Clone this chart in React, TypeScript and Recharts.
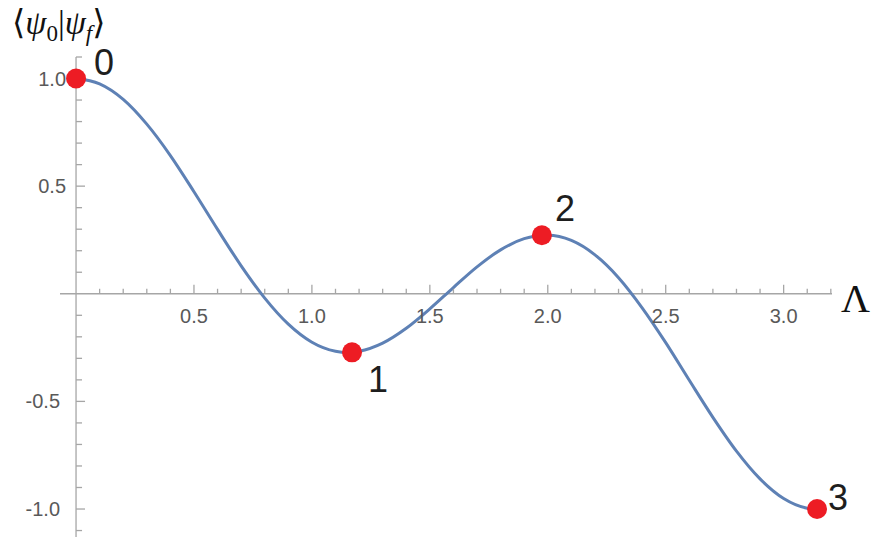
import React from 'react';
import { ComposedChart, Line, Scatter, XAxis, YAxis, ReferenceLine } from 'recharts';

// overlap ⟨ψ0|ψf⟩ sampled along Λ
const lambdas = [
  0, 0.1, 0.2, 0.3, 0.4, 0.5, 0.6, 0.7, 0.8, 0.9, 1.0, 1.1, 1.15, 1.2, 1.3, 1.4, 1.5,
  1.6, 1.7, 1.8, 1.9, 1.99, 2.0, 2.1, 2.2, 2.3, 2.4, 2.5, 2.6, 2.7, 2.8, 2.9, 3.0, 3.1, 3.1416,
];
const overlaps = [
  1, 0.975, 0.903, 0.788, 0.642, 0.474, 0.299, 0.13, -0.02, -0.141, -0.225, -0.267, -0.273,
  -0.267, -0.229, -0.16, -0.07, 0.029, 0.125, 0.204, 0.256, 0.272, 0.272, 0.248, 0.181, 0.075,
  -0.065, -0.227, -0.402, -0.574, -0.731, -0.86, -0.951, -0.996, -1,
];

// numbered stationary points
const pointLambdas = [0, 1.17, 1.975, 3.1416];
const pointOverlaps = [1, -0.272, 0.272, -1];
const pointLabels = ['0', '1', '2', '3'];

const xMajorTicks = [0.5, 1, 1.5, 2, 2.5, 3];
const xMajorLabels = ['0.5', '1.0', '1.5', '2.0', '2.5', '3.0'];
const xMinorTicks = [
  0.1, 0.2, 0.3, 0.4, 0.6, 0.7, 0.8, 0.9, 1.1, 1.2, 1.3, 1.4, 1.6, 1.7, 1.8, 1.9,
  2.1, 2.2, 2.3, 2.4, 2.6, 2.7, 2.8, 2.9, 3.1, 3.2,
];
const yMajorTicks = [1, 0.5, -0.5, -1];
const yMajorLabels = ['1.0', '0.5', '-0.5', '-1.0'];
const yMinorTicks = [
  1.1, 0.9, 0.8, 0.7, 0.6, 0.4, 0.3, 0.2, 0.1, -0.1, -0.2, -0.3, -0.4,
  -0.6, -0.7, -0.8, -0.9, -1.1,
];

const curve = lambdas.map((x, i) => ({ x, y: overlaps[i] }));
const points = pointLambdas.map((x, i) => ({ x, y: pointOverlaps[i], label: pointLabels[i] }));
const xTicks = [
  ...xMajorTicks.map((x, i) => ({ x, y: 0, major: true, label: xMajorLabels[i] })),
  ...xMinorTicks.map((x) => ({ x, y: 0, major: false, label: '' })),
];
const yTicks = [
  ...yMajorTicks.map((y, i) => ({ x: 0, y, major: true, label: yMajorLabels[i] })),
  ...yMinorTicks.map((y) => ({ x: 0, y, major: false, label: '' })),
];

const AXIS = '#a6a6a6';
const TICK_TEXT = '#595959';
const SANS = '"Liberation Sans", Arial, Helvetica, sans-serif';
const SERIF = '"Liberation Serif", "Times New Roman", "DejaVu Serif", serif';

// label placement next to each numbered point (dx, dy of baseline)
const labelOffsets: Record<string, [number, number]> = {
  '0': [18, -4],
  '1': [16, 40],
  '2': [13, -14],
  '3': [11, 1],
};

const XTickMark = (props: any) => {
  const { cx, cy, payload } = props;
  const len = payload.major ? 9 : 5;
  return (
    <g>
      <line x1={cx} y1={cy} x2={cx} y2={cy - len} stroke={AXIS} strokeWidth={1.3} />
      {payload.label && (
        <text x={cx} y={cy + 29} textAnchor="middle" fontSize={20} fill={TICK_TEXT} fontFamily={SANS}>
          {payload.label}
        </text>
      )}
    </g>
  );
};

const YTickMark = (props: any) => {
  const { cx, cy, payload } = props;
  const len = payload.major ? 9 : 6;
  const shift = payload.y < 0 ? 16 : 10;
  return (
    <g>
      <line x1={cx} y1={cy} x2={cx + len} y2={cy} stroke={AXIS} strokeWidth={1.3} />
      {payload.label && (
        <text x={cx - shift} y={cy + 7} textAnchor="end" fontSize={20} fill={TICK_TEXT} fontFamily={SANS}>
          {payload.label}
        </text>
      )}
    </g>
  );
};

const PointMark = (props: any) => {
  const { cx, cy, payload } = props;
  const [dx, dy] = labelOffsets[payload.label];
  return (
    <g>
      <circle cx={cx} cy={cy} r={10} fill="#ED1C24" />
      <text x={cx + dx} y={cy + dy} fontSize={36} fill="#1e1e1e" fontFamily={SANS}>
        {payload.label}
      </text>
    </g>
  );
};

export default function App() {
  return (
    <div style={{ position: 'relative', width: 874, height: 537, background: '#fff' }}>
      <style>{'body{margin:0}'}</style>
      <ComposedChart width={874} height={537} margin={{ top: 57, right: 42, bottom: 0, left: 60 }}>
        <XAxis type="number" dataKey="x" domain={[-0.068, 3.205]} hide />
        <YAxis type="number" dataKey="y" domain={[-1.13, 1.1]} hide />
        <ReferenceLine x={0} stroke={AXIS} strokeWidth={1.3} />
        <ReferenceLine y={0} stroke={AXIS} strokeWidth={1.3} />
        <Scatter data={xTicks} shape={XTickMark} isAnimationActive={false} />
        <Scatter data={yTicks} shape={YTickMark} isAnimationActive={false} />
        <Line
          data={curve}
          dataKey="y"
          type="monotone"
          stroke="#5E81B5"
          strokeWidth={3}
          dot={false}
          activeDot={false}
          isAnimationActive={false}
        />
        <Scatter data={points} shape={PointMark} isAnimationActive={false} />
      </ComposedChart>
      <svg
        width={874}
        height={537}
        style={{ position: 'absolute', left: 0, top: 0, pointerEvents: 'none' }}
      >
        <text x={12} y={34} fontSize={34} fontFamily={SERIF} fill="#111">
          ⟨<tspan fontStyle="italic">ψ</tspan>
          <tspan fontSize={23} dy={7}>0</tspan>
          <tspan dy={-7}>|</tspan>
          <tspan fontStyle="italic">ψ</tspan>
          <tspan fontSize={23} fontStyle="italic" dy={7}>f</tspan>
          <tspan dy={-7}>⟩</tspan>
        </text>
        <text x={841} y={312} fontSize={40} fontFamily={SERIF} fill="#111">
          Λ
        </text>
      </svg>
    </div>
  );
}
